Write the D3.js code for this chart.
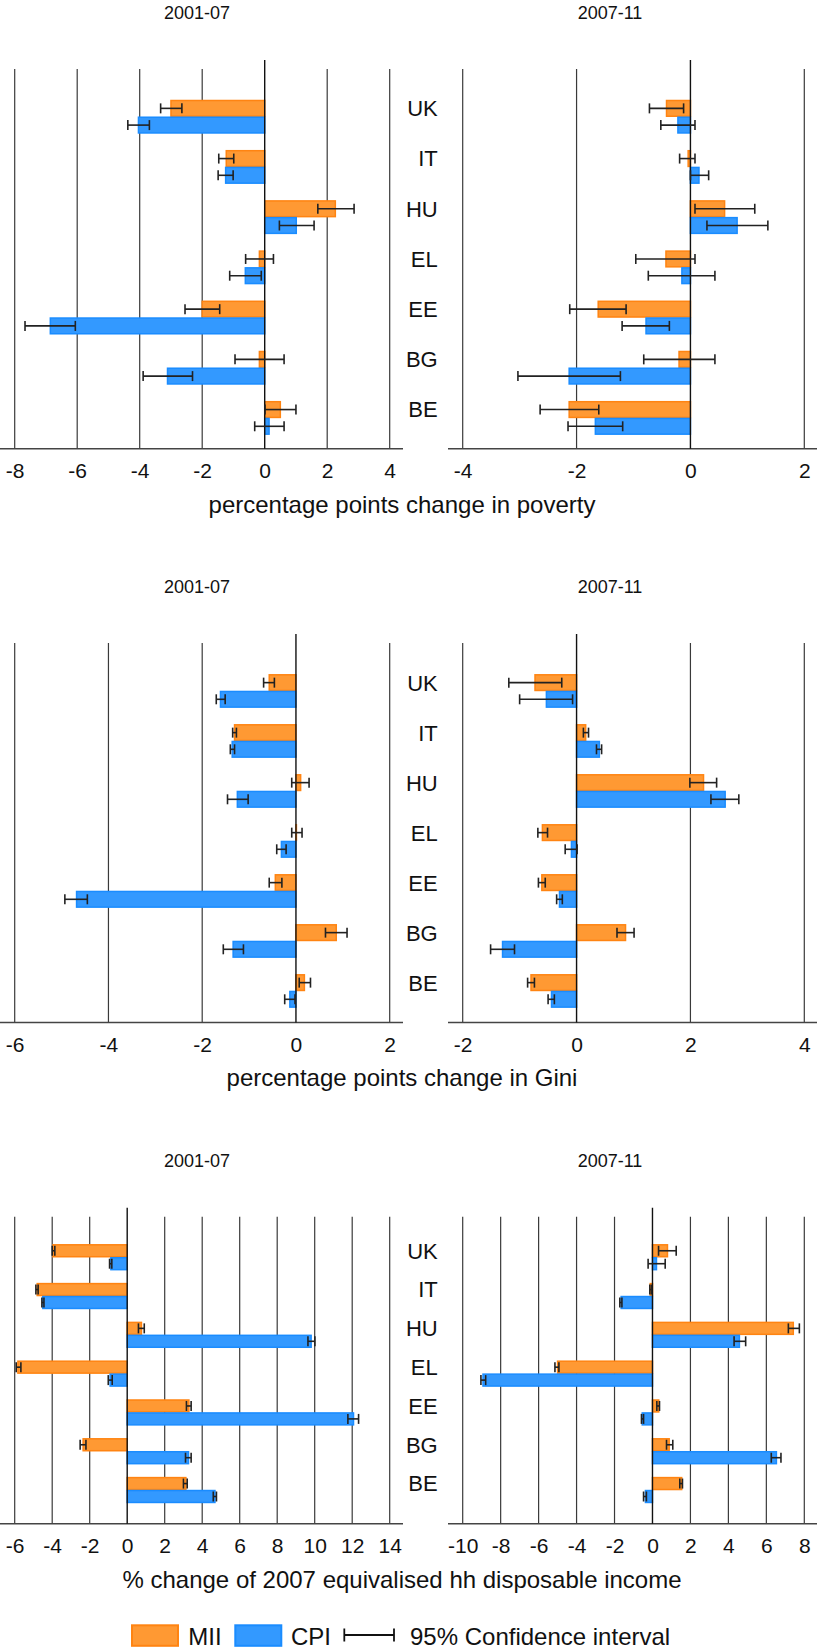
<!DOCTYPE html>
<html>
<head>
<meta charset="utf-8">
<script src="https://cdn.jsdelivr.net/npm/d3@7"></script>
<style>
  body { margin: 0; background: #fff; }
  text { font-family: "Liberation Sans", Arial, sans-serif; fill: #111; }
</style>
</head>
<body>
<div id="chart"></div>
<script>
// countries, top to bottom
var countries = ["UK", "IT", "HU", "EL", "EE", "BG", "BE"];

// poverty, 2001-07
var pov0107Mii = [-3.0, -1.23, 2.26, -0.17, -2.0, -0.17, 0.50];
var pov0107MiiCI = [[-3.33, -2.65], [-1.47, -0.99], [1.70, 2.86], [-0.61, 0.28], [-2.55, -1.44], [-0.95, 0.62], [0.01, 1.0]];
var pov0107Cpi = [-4.04, -1.25, 1.01, -0.62, -6.86, -3.11, 0.14];
var pov0107CpiCI = [[-4.38, -3.69], [-1.49, -1.01], [0.47, 1.58], [-1.12, -0.11], [-7.67, -6.06], [-3.89, -2.31], [-0.32, 0.62]];

// poverty, 2007-11
var pov0711Mii = [-0.42, -0.04, 0.60, -0.43, -1.62, -0.20, -2.13];
var pov0711MiiCI = [[-0.72, -0.12], [-0.19, 0.08], [0.08, 1.13], [-0.96, 0.08], [-2.12, -1.13], [-0.82, 0.43], [-2.64, -1.61]];
var pov0711Cpi = [-0.22, 0.15, 0.82, -0.15, -0.78, -2.13, -1.67];
var pov0711CpiCI = [[-0.52, 0.08], [0.0, 0.32], [0.29, 1.36], [-0.74, 0.43], [-1.20, -0.37], [-3.03, -1.23], [-2.15, -1.19]];

// Gini, 2001-07
var gini0107Mii = [-0.57, -1.31, 0.10, 0.01, -0.44, 0.86, 0.18];
var gini0107MiiCI = [[-0.69, -0.46], [-1.35, -1.27], [-0.09, 0.28], [-0.09, 0.13], [-0.57, -0.30], [0.63, 1.09], [0.07, 0.31]];
var gini0107Cpi = [-1.61, -1.36, -1.25, -0.31, -4.68, -1.34, -0.13];
var gini0107CpiCI = [[-1.70, -1.51], [-1.40, -1.31], [-1.46, -1.02], [-0.41, -0.21], [-4.93, -4.45], [-1.55, -1.12], [-0.24, -0.02]];

// Gini, 2007-11
var gini0711Mii = [-0.73, 0.16, 2.23, -0.60, -0.61, 0.86, -0.80];
var gini0711MiiCI = [[-1.19, -0.26], [0.12, 0.21], [1.99, 2.46], [-0.68, -0.51], [-0.67, -0.55], [0.71, 1.01], [-0.86, -0.74]];
var gini0711Cpi = [-0.53, 0.40, 2.61, -0.09, -0.30, -1.30, -0.44];
var gini0711CpiCI = [[-1.0, -0.07], [0.35, 0.44], [2.36, 2.85], [-0.20, 0.01], [-0.35, -0.25], [-1.51, -1.09], [-0.50, -0.39]];

// income, 2001-07
var inc0107Mii = [-3.96, -4.80, 0.76, -5.83, 3.29, -2.35, 3.13];
var inc0107MiiCI = [[-4.0, -3.86], [-4.87, -4.75], [0.60, 0.91], [-5.92, -5.67], [3.16, 3.41], [-2.51, -2.20], [3.0, 3.2]];
var inc0107Cpi = [-0.87, -4.50, 9.81, -0.91, 12.07, 3.27, 4.68];
var inc0107CpiCI = [[-0.94, -0.82], [-4.55, -4.44], [9.64, 10.01], [-1.01, -0.80], [11.77, 12.34], [3.11, 3.41], [4.59, 4.76]];

// income, 2007-11
var inc0711Mii = [0.79, -0.12, 7.42, -5.0, 0.33, 0.88, 1.54];
var inc0711MiiCI = [[0.32, 1.25], [-0.14, -0.05], [7.16, 7.74], [-5.14, -4.93], [0.23, 0.37], [0.74, 1.07], [1.44, 1.58]];
var inc0711Cpi = [0.21, -1.65, 4.58, -8.93, -0.54, 6.53, -0.37];
var inc0711CpiCI = [[-0.23, 0.67], [-1.72, -1.61], [4.30, 4.91], [-9.04, -8.79], [-0.58, -0.47], [6.26, 6.77], [-0.47, -0.32]];

var periods = ["2001-07", "2007-11"];
var axisTitles = ["percentage points change in poverty", "percentage points change in Gini", "% change of 2007 equivalised hh disposable income"];
var domains = [[[-8, 4], [-4, 2]], [[-6, 2], [-2, 4]], [[-6, 14], [-10, 8]]];
var legendLabels = ["MII", "CPI", "95% Confidence interval"];

var svgWidth = 817;
var svgHeight = 1652;

var miiFill = "#ff9933", miiStroke = "#ff8412";
var cpiFill = "#3399ff", cpiStroke = "#1a8cff";

// vertical layout of each row of panels
var rows = [
  { gridTop: 69, axisY: 448.7, firstTop: 100, step: 50.2 },
  { gridTop: 643, axisY: 1022.5, firstTop: 674.3, step: 50 },
  { gridTop: 1216.7, axisY: 1523.7, firstTop: 1244.3, step: 38.8 }
];
// horizontal layout of the two columns
var cols = [
  { range: [14.7, 389.7], axisLine: [0, 403], titleX: 197 },
  { range: [462.7, 804.3], axisLine: [448, 817], titleX: 610 }
];

var panelData = [
  [[pov0107Mii, pov0107MiiCI, pov0107Cpi, pov0107CpiCI], [pov0711Mii, pov0711MiiCI, pov0711Cpi, pov0711CpiCI]],
  [[gini0107Mii, gini0107MiiCI, gini0107Cpi, gini0107CpiCI], [gini0711Mii, gini0711MiiCI, gini0711Cpi, gini0711CpiCI]],
  [[inc0107Mii, inc0107MiiCI, inc0107Cpi, inc0107CpiCI], [inc0711Mii, inc0711MiiCI, inc0711Cpi, inc0711CpiCI]]
];

var svg = d3.select("#chart")
  .append("svg")
  .attr("width", svgWidth)
  .attr("height", svgHeight);

rows.forEach(function(row, r) {
  var yBand = d3.scaleBand()
    .domain(countries)
    .range([row.firstTop, row.firstTop + countries.length * row.step])
    .padding(0);
  var barH = row.step / 3;

  cols.forEach(function(col, c) {
    var dom = domains[r][c];
    var x = d3.scaleLinear().domain(dom).range(col.range);
    var ticks = d3.range(dom[0], dom[1] + 1, 2);
    var g = svg.append("g");

    // panel title
    g.append("text")
      .attr("x", col.titleX)
      .attr("y", row.gridTop - 50)
      .attr("text-anchor", "middle")
      .style("font-size", "18px")
      .text(periods[c]);

    // vertical gridlines
    g.selectAll(".grid")
      .data(ticks.filter(function(t) { return t !== 0; }))
      .enter()
      .append("line")
      .attr("x1", function(t) { return x(t); })
      .attr("x2", function(t) { return x(t); })
      .attr("y1", row.gridTop)
      .attr("y2", row.axisY)
      .attr("stroke", "#3a3a3a")
      .attr("stroke-width", 1.2);

    // horizontal axis line
    g.append("line")
      .attr("x1", col.axisLine[0])
      .attr("x2", col.axisLine[1])
      .attr("y1", row.axisY)
      .attr("y2", row.axisY)
      .attr("stroke", "#444")
      .attr("stroke-width", 1.5);

    // tick labels (plain hyphen for negatives, as in the original)
    var bottomAxis = d3.axisBottom(x).tickValues(ticks).tickSize(0).tickPadding(14.7)
      .tickFormat(function(t) { return String(t); });
    var ax = g.append("g")
      .attr("transform", "translate(0," + row.axisY + ")")
      .call(bottomAxis);
    ax.select(".domain").remove();
    ax.selectAll("text")
      .style("font-size", "21px")
      .style("font-family", "'Liberation Sans', Arial, sans-serif")
      .attr("fill", "#111");

    var d = panelData[r][c];
    var series = [
      { vals: d[0], ci: d[1], off: 0, fill: miiFill, stroke: miiStroke },
      { vals: d[2], ci: d[3], off: barH, fill: cpiFill, stroke: cpiStroke }
    ];

    series.forEach(function(s) {
      g.selectAll(null)
        .data(countries)
        .enter()
        .append("rect")
        .attr("x", function(k, i) { return Math.min(x(0), x(s.vals[i])); })
        .attr("y", function(k) { return yBand(k) + s.off + 0.5; })
        .attr("width", function(k, i) { return Math.abs(x(s.vals[i]) - x(0)); })
        .attr("height", barH - 1)
        .attr("fill", s.fill)
        .attr("stroke", s.stroke)
        .attr("stroke-width", 1.5);
    });

    // zero line
    g.append("line")
      .attr("x1", x(0))
      .attr("x2", x(0))
      .attr("y1", row.gridTop - 9)
      .attr("y2", row.axisY)
      .attr("stroke", "#111")
      .attr("stroke-width", 1.4);

    // confidence intervals
    series.forEach(function(s) {
      var eb = g.selectAll(null)
        .data(countries)
        .enter()
        .append("g")
        .attr("stroke", "#222")
        .attr("stroke-width", 1.6);
      var cy = function(k) { return yBand(k) + s.off + barH / 2; };
      eb.append("line")
        .attr("x1", function(k, i) { return x(s.ci[i][0]); })
        .attr("x2", function(k, i) { return x(s.ci[i][1]); })
        .attr("y1", cy)
        .attr("y2", cy);
      [0, 1].forEach(function(e) {
        eb.append("line")
          .attr("x1", function(k, i) { return x(s.ci[i][e]); })
          .attr("x2", function(k, i) { return x(s.ci[i][e]); })
          .attr("y1", function(k) { return cy(k) - 5; })
          .attr("y2", function(k) { return cy(k) + 5; });
      });
    });
  });

  // country labels between the panels
  svg.selectAll(null)
    .data(countries)
    .enter()
    .append("text")
    .attr("x", 437.7)
    .attr("y", function(k) { return yBand(k) + barH / 2; })
    .attr("dy", "0.36em")
    .attr("text-anchor", "end")
    .style("font-size", "22px")
    .text(function(k) { return k; });

  // axis title
  svg.append("text")
    .attr("x", 402)
    .attr("y", row.axisY + 63.8)
    .attr("text-anchor", "middle")
    .style("font-size", "24px")
    .text(axisTitles[r]);
});

// legend
var legend = svg.append("g");
legend.append("rect")
  .attr("x", 132).attr("y", 1625.3).attr("width", 46).attr("height", 20.5)
  .attr("fill", miiFill).attr("stroke", miiStroke).attr("stroke-width", 2);
legend.append("text")
  .attr("x", 188.3).attr("y", 1645).style("font-size", "24px").text(legendLabels[0]);
legend.append("rect")
  .attr("x", 235.3).attr("y", 1625.3).attr("width", 46).attr("height", 20.5)
  .attr("fill", cpiFill).attr("stroke", cpiStroke).attr("stroke-width", 2);
legend.append("text")
  .attr("x", 291).attr("y", 1645).style("font-size", "24px").text(legendLabels[1]);
var ciKey = legend.append("g").attr("stroke", "#111").attr("stroke-width", 1.8);
ciKey.append("line").attr("x1", 344.3).attr("x2", 394).attr("y1", 1635).attr("y2", 1635);
ciKey.append("line").attr("x1", 344.3).attr("x2", 344.3).attr("y1", 1628.5).attr("y2", 1641.5);
ciKey.append("line").attr("x1", 394).attr("x2", 394).attr("y1", 1628.5).attr("y2", 1641.5);
legend.append("text")
  .attr("x", 410).attr("y", 1645).style("font-size", "24px").text(legendLabels[2]);
</script>
</body>
</html>
